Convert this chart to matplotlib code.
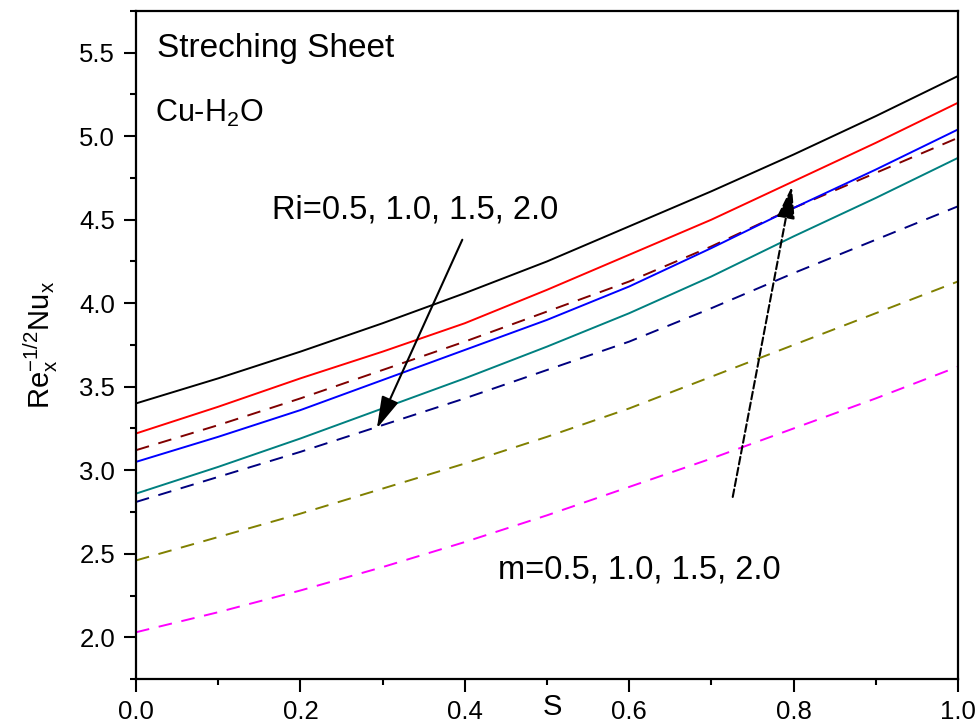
import matplotlib
matplotlib.use("Agg")
import matplotlib.pyplot as plt
from matplotlib.ticker import MultipleLocator

plt.rcParams['font.family'] = ['Liberation Sans', 'DejaVu Sans']
plt.rcParams['mathtext.fontset'] = 'custom'
plt.rcParams['mathtext.rm'] = 'Liberation Sans'
plt.rcParams['mathtext.it'] = 'Liberation Sans:italic'
plt.rcParams['mathtext.default'] = 'regular'

S = [0.0, 0.1, 0.2, 0.3, 0.4, 0.5, 0.6, 0.7, 0.8, 0.9, 1.0]

# Ri series (solid)
ri_black = [3.40, 3.55, 3.71, 3.88, 4.06, 4.25, 4.46, 4.67, 4.89, 5.12, 5.36]
ri_red   = [3.22, 3.38, 3.55, 3.71, 3.88, 4.08, 4.29, 4.50, 4.73, 4.96, 5.20]
ri_blue  = [3.05, 3.20, 3.36, 3.54, 3.72, 3.90, 4.10, 4.33, 4.57, 4.80, 5.04]
ri_teal  = [2.86, 3.02, 3.19, 3.37, 3.55, 3.74, 3.94, 4.16, 4.40, 4.63, 4.87]

# m series (dashed)
m_darkred = [3.12, 3.27, 3.43, 3.60, 3.77, 3.95, 4.13, 4.34, 4.57, 4.78, 4.99]
m_navy    = [2.81, 2.96, 3.11, 3.27, 3.43, 3.60, 3.77, 3.97, 4.18, 4.38, 4.58]
m_olive   = [2.46, 2.60, 2.74, 2.89, 3.04, 3.20, 3.37, 3.56, 3.75, 3.94, 4.13]
m_magenta = [2.03, 2.15, 2.28, 2.42, 2.57, 2.73, 2.90, 3.07, 3.25, 3.43, 3.62]

fig = plt.figure(figsize=(9.79, 7.27), dpi=100)
ax = fig.add_axes([0.1389, 0.066, 0.8396, 0.919])

lw = 1.4
dash = (0, (7, 5))
ax.plot(S, ri_black, color='black', lw=lw)
ax.plot(S, ri_red, color='#FF0000', lw=lw)
ax.plot(S, m_darkred, color='#800000', lw=lw, linestyle=dash)
ax.plot(S, ri_blue, color='#0000FF', lw=lw)
ax.plot(S, ri_teal, color='#008080', lw=lw)
ax.plot(S, m_navy, color='#000080', lw=lw, linestyle=dash)
ax.plot(S, m_olive, color='#808000', lw=lw, linestyle=dash)
ax.plot(S, m_magenta, color='#FF00FF', lw=lw, linestyle=dash)

ax.set_xlim(0.0, 1.0)
ax.set_ylim(1.75, 5.75)
ax.xaxis.set_major_locator(MultipleLocator(0.2))
ax.xaxis.set_minor_locator(MultipleLocator(0.1))
ax.yaxis.set_major_locator(MultipleLocator(0.5))
ax.yaxis.set_minor_locator(MultipleLocator(0.25))
ax.xaxis.set_major_formatter(plt.FormatStrFormatter('%.1f'))
ax.yaxis.set_major_formatter(plt.FormatStrFormatter('%.1f'))
ax.tick_params(which='major', direction='out', length=9, width=1.5, labelsize=18.5, pad=6)
ax.tick_params(which='minor', direction='out', length=4.5, width=1.5)
ax.tick_params(top=False, right=False)
for sp in ax.spines.values():
    sp.set_linewidth(1.6)

ax.set_ylabel(r'$Re_x^{-1/2}Nu_x$', fontsize=21, labelpad=14)
ax.text(0.507, -0.042, 'S', transform=ax.transAxes, fontsize=21, ha='center', va='center')

ax.text(0.026, 0.943, 'Streching Sheet', transform=ax.transAxes, fontsize=24, ha='left', va='center')
ax.text(0.023, 0.847, r'Cu-H$_2$O', transform=ax.transAxes, fontsize=22, ha='left', va='center')
ax.text(0.166, 4.56, 'Ri=0.5, 1.0, 1.5, 2.0', fontsize=23.5, ha='left', va='center')
ax.text(0.440, 2.40, 'm=0.5, 1.0, 1.5, 2.0', fontsize=23.5, ha='left', va='center')

ax.annotate('', xy=(0.293, 3.25), xytext=(0.397, 4.38),
            arrowprops=dict(arrowstyle='-|>,head_length=0.9,head_width=0.25', color='black', lw=1.5,
                            mutation_scale=22, shrinkA=0, shrinkB=0))
ax.annotate('', xy=(0.798, 4.70), xytext=(0.726, 2.84),
            arrowprops=dict(arrowstyle='-|>,head_length=0.9,head_width=0.25', color='black', lw=1.5,
                            linestyle='--', mutation_scale=22, shrinkA=0, shrinkB=0))

fig.savefig('out.png', dpi=100)
